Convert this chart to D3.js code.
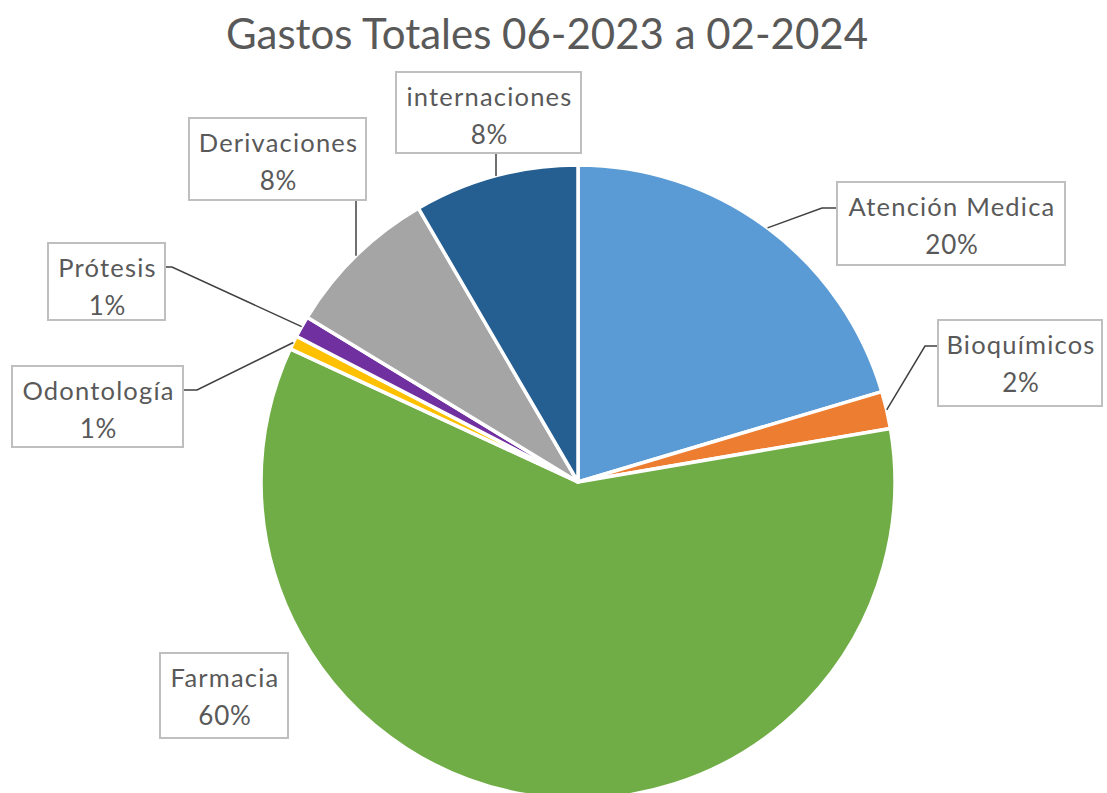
<!DOCTYPE html>
<html>
<head>
<meta charset="utf-8">
<script src="https://cdn.jsdelivr.net/npm/d3@7"></script>
<style>
  html, body { margin: 0; padding: 0; background: #fff; }
  svg { display: block; }
</style>
</head>
<body>
<svg id="chart" width="1107" height="793"></svg>
<script>
// ---- data ----
const title = "Gastos Totales 06-2023 a 02-2024";
const categories = ["Atención Medica", "Bioquímicos", "Farmacia", "Odontología", "Prótesis", "Derivaciones", "internaciones"];
const values = [20.4, 1.9, 59.6, 0.7, 1.1, 7.9, 8.4];
const colors = ["#5B9BD5", "#ED7D31", "#70AD47", "#FFC000", "#7030A0", "#A5A5A5", "#255E91"];

// ---- layout (label boxes) ----
const boxes = [
  {x: 837, y: 182, w: 228, h: 83, side: "left",  hx: 822},
  {x: 938, y: 320, w: 164, h: 86, side: "left",  hx: 925},
  {x: 160, y: 653, w: 128, h: 85, side: "none"},
  {x: 12,  y: 366, w: 171, h: 81, side: "right", hx: 197},
  {x: 48,  y: 243, w: 117, h: 77, side: "right", hx: 172},
  {x: 189, y: 118, w: 177, h: 82, side: "bottom", vx: 356},
  {x: 396, y: 72,  w: 185, h: 81, side: "bottom", vx: 496}
];

const svg = d3.select("#chart");
const cx = 578, cy = 482, R = 317;
const font = "Lato, 'Open Sans', sans-serif";

svg.append("text")
  .attr("x", 547).attr("y", 49)
  .attr("text-anchor", "middle")
  .attr("font-family", font)
  .attr("font-size", 42)
  .attr("fill", "#595959")
  .text(title);

const data = categories.map((c, i) => ({name: c, value: values[i], color: colors[i], box: boxes[i]}));
const total = d3.sum(values);

const pie = d3.pie().sort(null).value(d => d.value).startAngle(0).endAngle(2 * Math.PI);
const arcs = pie(data);
const arc = d3.arc().innerRadius(0).outerRadius(R);

const g = svg.append("g").attr("transform", `translate(${cx},${cy})`);
g.selectAll("path.slice").data(arcs).join("path")
  .attr("class", "slice")
  .attr("d", arc)
  .attr("fill", d => d.data.color)
  .attr("stroke", "#fff")
  .attr("stroke-width", 3.5)
  .attr("stroke-linejoin", "round");

// leader lines
const edge = d3.arc().innerRadius(R).outerRadius(R);
arcs.forEach(a => {
  const b = a.data.box;
  if (b.side === "none") return;
  const [px, py] = edge.centroid(a);
  const ex = cx + px, ey = cy + py;
  let pts;
  if (b.side === "left") {
    const ly = b.y + 26;
    pts = [[b.x, ly], [b.hx, ly], [ex, ey]];
  } else if (b.side === "right") {
    const ly = b.y + 24;
    pts = [[b.x + b.w, ly], [b.hx, ly], [ex, ey]];
  } else {
    pts = [[b.vx, b.y + b.h], [b.vx, ey]];
  }
  svg.append("path")
    .attr("d", d3.line()(pts))
    .attr("fill", "none")
    .attr("stroke", "#404040")
    .attr("stroke-width", 1.5);
});

// label boxes
arcs.forEach(a => {
  const b = a.data.box;
  const lg = svg.append("g");
  lg.append("rect")
    .attr("x", b.x).attr("y", b.y).attr("width", b.w).attr("height", b.h)
    .attr("fill", "#fff")
    .attr("stroke", "#BFBFBF")
    .attr("stroke-width", 2);
  const mx = b.x + b.w / 2;
  lg.append("text")
    .attr("x", mx + 1).attr("y", b.y + 34)
    .attr("text-anchor", "middle")
    .attr("font-family", font)
    .attr("font-size", 25.5)
    .attr("letter-spacing", 1.2)
    .attr("fill", "#595959")
    .text(a.data.name);
  lg.append("text")
    .attr("x", mx + 1).attr("y", b.y + 72)
    .attr("text-anchor", "middle")
    .attr("font-family", font)
    .attr("font-size", 26)
    .attr("letter-spacing", 0.8)
    .attr("fill", "#595959")
    .text(Math.round(a.data.value / total * 100) + "%");
});
</script>
</body>
</html>
